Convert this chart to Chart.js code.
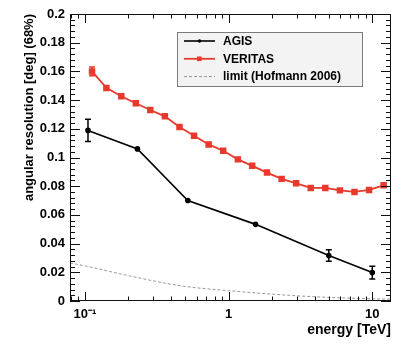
<!DOCTYPE html>
<html>
<head>
<meta charset="utf-8">
<script src="https://cdn.jsdelivr.net/npm/chart.js@4/dist/chart.umd.min.js"></script>
<style>
  html, body { margin: 0; padding: 0; background: #fff; }
  #wrap { width: 415px; height: 346px; }
</style>
</head>
<body>
<div id="wrap"><canvas id="chart" width="415" height="346"></canvas></div>
<script>
// values
const agisEnergy = [0.105, 0.232, 0.52, 1.54, 4.98, 10.0];
const agisRes = [0.1189, 0.106, 0.070, 0.0534, 0.0317, 0.0198];
const agisErr = [0.0077, 0, 0, 0, 0.0040, 0.0045];

const veritasEnergy = [0.112, 0.141, 0.179, 0.226, 0.285, 0.360, 0.455, 0.575, 0.726, 0.917,
  1.16, 1.46, 1.85, 2.34, 2.95, 3.73, 4.71, 5.95, 7.52, 9.50, 12.0];
const veritasRes = [0.160, 0.1485, 0.1427, 0.1378, 0.1331, 0.1287, 0.1212, 0.1152, 0.1091, 0.1047,
  0.0987, 0.0942, 0.0895, 0.0851, 0.0820, 0.0788, 0.0788, 0.0771, 0.0760, 0.0774, 0.0806];
const veritasErr = [0.003, 0, 0, 0, 0, 0, 0, 0, 0, 0, 0, 0, 0, 0, 0, 0, 0, 0, 0, 0, 0];

const limitEnergy = [0.0787, 0.1, 0.2, 0.47, 1.0, 2.0, 3.9, 11.2, 13.5];
const limitRes = [0.0265, 0.0245, 0.0177, 0.0105, 0.0072, 0.0048, 0.0030, 0.0014, 0.0013];

const xTicks = [0.1, 1, 10];
const xTickLabels = ['10\u207B\u00B9', '1', '10'];
const yTicks = [0, 0.02, 0.04, 0.06, 0.08, 0.1, 0.12, 0.14, 0.16, 0.18, 0.2];
const yTickLabels = ['0', '0.02', '0.04', '0.06', '0.08', '0.1', '0.12', '0.14', '0.16', '0.18', '0.2'];

const RED = '#e8392d';
const FONT = 'Liberation Sans, Arial, Helvetica, sans-serif';

const toXY = (xs, ys) => xs.map((x, i) => ({ x: x, y: ys[i] }));

// ROOT style frame with inward ticks on every side
const framePlugin = {
  id: 'frame',
  afterDatasetsDraw(chart) {
    const { ctx, chartArea: a, scales: { x, y } } = chart;
    ctx.save();
    ctx.strokeStyle = '#111';
    ctx.lineWidth = 1;
    ctx.strokeRect(a.left + 0.5, a.top + 0.5, a.right - a.left - 1, a.bottom - a.top - 1);

    const line = (x1, y1, x2, y2) => {
      ctx.beginPath(); ctx.moveTo(x1, y1); ctx.lineTo(x2, y2); ctx.stroke();
    };
    // y ticks
    for (let k = 0; k <= 50; k++) {
      const v = k * 0.004;
      const py = Math.round(y.getPixelForValue(v)) + 0.5;
      const len = k % 5 === 0 ? 10 : 5;
      line(a.left, py, a.left + len, py);
      line(a.right, py, a.right - len, py);
    }
    // x ticks (log)
    [0.01, 0.1, 1, 10].forEach(dec => {
      for (let m = 1; m <= 9; m++) {
        const v = dec * m;
        if (v < x.min || v > x.max) continue;
        const px = Math.round(x.getPixelForValue(v)) + 0.5;
        const len = m === 1 ? 9 : 4.5;
        line(px, a.bottom, px, a.bottom - len);
        line(px, a.top, px, a.top + len);
      }
    });
    ctx.restore();
  }
};

// vertical error bars with small caps
const errorBarPlugin = {
  id: 'errorBars',
  afterDatasetsDraw(chart) {
    const { ctx, scales: { x, y } } = chart;
    chart.data.datasets.forEach(ds => {
      if (!ds.errors) return;
      ctx.save();
      ctx.strokeStyle = ds.borderColor;
      ctx.lineWidth = 1.5;
      ds.data.forEach((p, i) => {
        const e = ds.errors[i];
        if (!e) return;
        const px = x.getPixelForValue(p.x);
        const y1 = y.getPixelForValue(p.y + e);
        const y2 = y.getPixelForValue(p.y - e);
        ctx.beginPath();
        ctx.moveTo(px, y1); ctx.lineTo(px, y2);
        ctx.moveTo(px - 3, y1); ctx.lineTo(px + 3, y1);
        ctx.moveTo(px - 3, y2); ctx.lineTo(px + 3, y2);
        ctx.stroke();
      });
      ctx.restore();
    });
  }
};

// legend box inside the frame
const legendPlugin = {
  id: 'boxLegend',
  afterDraw(chart) {
    const { ctx } = chart;
    const bx = 177, by = 32, bw = 185, bh = 54;
    ctx.save();
    ctx.fillStyle = '#f3f3f3';
    ctx.fillRect(bx, by, bw, bh);
    ctx.strokeStyle = '#7a7a7a';
    ctx.lineWidth = 1;
    ctx.strokeRect(bx + 0.5, by + 0.5, bw, bh);

    const rows = chart.data.datasets.map(ds => ds).sort((a, b) => a.legendOrder - b.legendOrder);
    ctx.font = 'bold 12px ' + FONT;
    ctx.textBaseline = 'middle';
    rows.forEach((ds, i) => {
      const ry = 41 + i * 17.8;
      ctx.strokeStyle = ds.borderColor;
      ctx.lineWidth = ds.borderWidth;
      ctx.setLineDash(ds.borderDash || []);
      ctx.beginPath(); ctx.moveTo(184, ry); ctx.lineTo(215, ry); ctx.stroke();
      ctx.setLineDash([]);
      if (ds.pointRadius) {
        ctx.fillStyle = ds.borderColor;
        if (ds.pointStyle === 'rect') ctx.fillRect(197, ry - 2.3, 4.6, 4.6);
        else { ctx.beginPath(); ctx.arc(199.5, ry, 1.8, 0, Math.PI * 2); ctx.fill(); }
      }
      ctx.fillStyle = '#000';
      ctx.fillText(ds.label, 223, ry + 0.5);
    });
    ctx.restore();
  }
};

new Chart(document.getElementById('chart').getContext('2d'), {
  type: 'line',
  data: {
    datasets: [
      {
        label: 'limit (Hofmann 2006)',
        legendOrder: 2,
        data: toXY(limitEnergy, limitRes),
        borderColor: '#999999',
        borderWidth: 1,
        borderDash: [3, 2],
        pointRadius: 0,
        cubicInterpolationMode: 'monotone'
      },
      {
        label: 'AGIS',
        legendOrder: 0,
        data: toXY(agisEnergy, agisRes),
        errors: agisErr,
        borderColor: '#000000',
        backgroundColor: '#000000',
        borderWidth: 1.6,
        pointRadius: 2,
        pointStyle: 'circle'
      },
      {
        label: 'VERITAS',
        legendOrder: 1,
        data: toXY(veritasEnergy, veritasRes),
        errors: veritasErr,
        borderColor: RED,
        backgroundColor: RED,
        borderWidth: 1.8,
        pointRadius: 3.3,
        pointStyle: 'rect'
      }
    ]
  },
  options: {
    responsive: false,
    animation: false,
    devicePixelRatio: 1,
    layout: { padding: { left: 0, right: 24, top: 14, bottom: 0 } },
    plugins: { legend: { display: false }, tooltip: { enabled: false } },
    scales: {
      x: {
        type: 'logarithmic',
        min: 0.0787,
        max: 13.5,
        grid: { display: false, drawTicks: false },
        border: { display: false },
        afterBuildTicks: (scale) => { scale.ticks = xTicks.map(v => ({ value: v })); },
        afterFit: (scale) => { scale.height = 45; },
        ticks: {
          autoSkip: false,
          maxRotation: 0,
          padding: 6,
          color: '#000',
          font: { family: FONT, size: 13, weight: 'bold' },
          callback: (v) => xTickLabels[xTicks.indexOf(v)]
        },
        title: {
          display: true,
          text: 'energy [TeV]',
          align: 'end',
          color: '#000',
          font: { family: FONT, size: 14, weight: 'bold' },
          padding: { top: 0, bottom: 7 }
        }
      },
      y: {
        type: 'linear',
        min: 0,
        max: 0.2,
        grid: { display: false, drawTicks: false },
        border: { display: false },
        afterBuildTicks: (scale) => { scale.ticks = yTicks.map(v => ({ value: v })); },
        afterFit: (scale) => { scale.width = 70; },
        ticks: {
          autoSkip: false,
          padding: 5,
          color: '#000',
          font: { family: FONT, size: 13, weight: 'bold' },
          callback: (v) => yTickLabels[yTicks.indexOf(v)]
        },
        title: {
          display: true,
          text: 'angular resolution [deg] (68%)',
          align: 'end',
          color: '#000',
          font: { family: FONT, size: 13, weight: 'bold' },
          padding: { top: 22, bottom: 0 }
        }
      }
    }
  },
  plugins: [framePlugin, errorBarPlugin, legendPlugin]
});
</script>
</body>
</html>
